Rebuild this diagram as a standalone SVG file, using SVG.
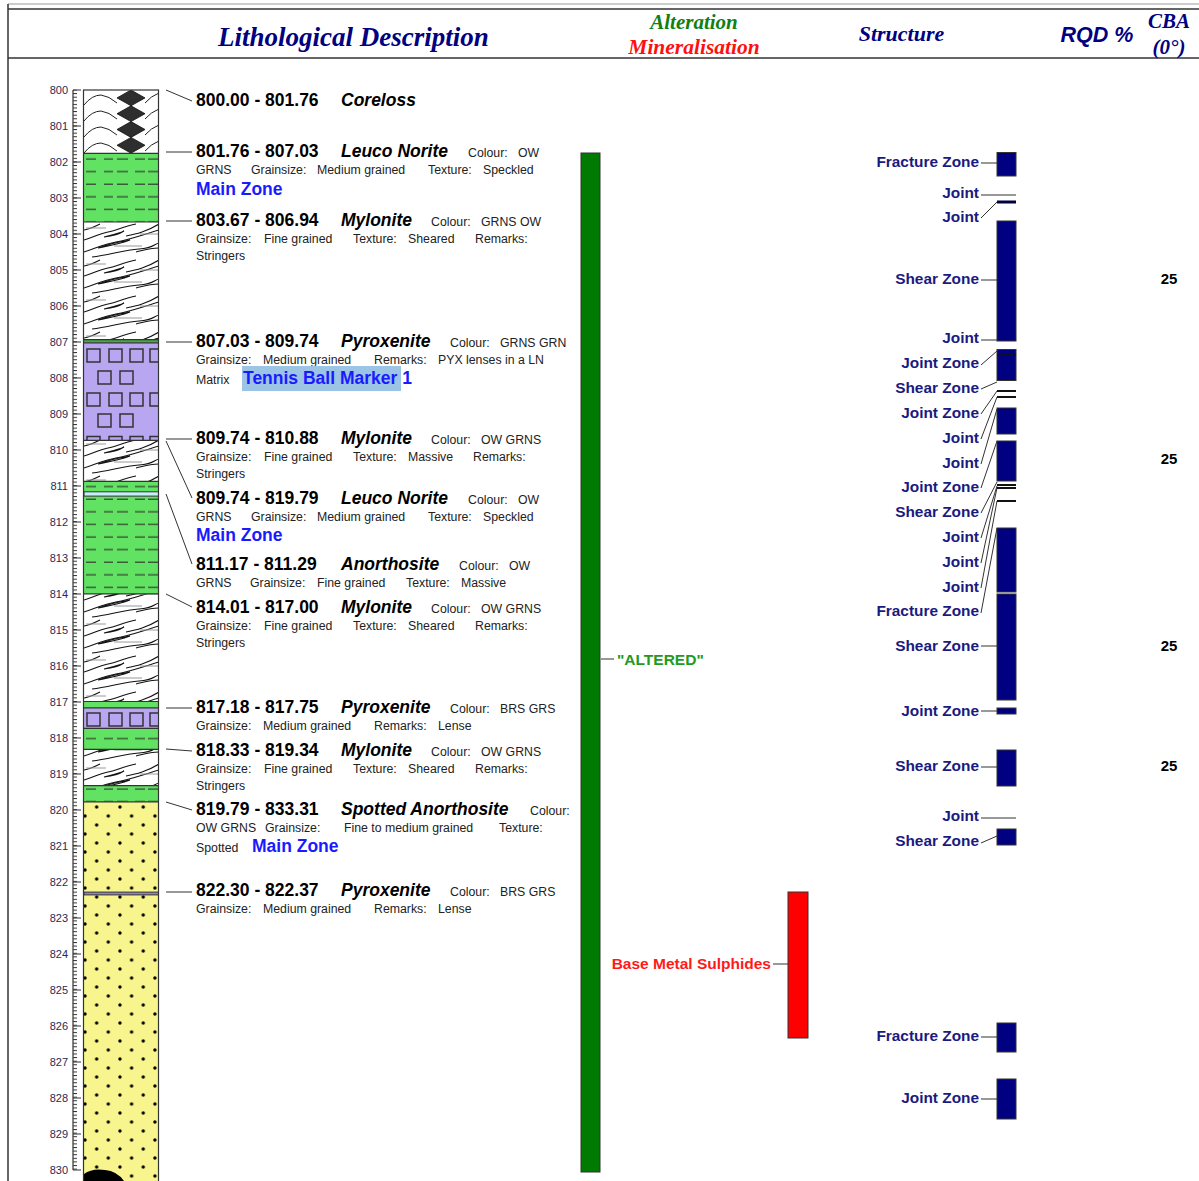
<svg xmlns="http://www.w3.org/2000/svg" width="1199" height="1181" viewBox="0 0 1199 1181">
<style>
  .hd{font-family:"Liberation Serif","Times New Roman",serif;font-weight:bold;font-style:italic}
  .num{font:bold 17.5px "Liberation Sans",Arial,sans-serif;fill:#000}
  .nm{font:italic bold 17.5px "Liberation Sans",Arial,sans-serif;fill:#000}
  .sm{font:12.3px "Liberation Sans",Arial,sans-serif;fill:#222}
  .mz{font:bold 17.5px "Liberation Sans",Arial,sans-serif;fill:#1a1aff}
  .st{font:bold 15.4px "Liberation Sans",Arial,sans-serif;fill:#1a1a80;text-anchor:end}
  .cba{font:bold 15px "Liberation Sans",Arial,sans-serif;fill:#000;text-anchor:middle}
  .rl{font:11px "Liberation Sans",Arial,sans-serif;fill:#2a2a55;text-anchor:end}
  .ld{stroke:#333;stroke-width:1;fill:none}
  .bar{fill:#000080;stroke:#333;stroke-width:1}
  .sq{fill:none;stroke:#333;stroke-width:1.5}
  .edge{stroke:#333;stroke-width:1.2;fill:none}
</style>
<defs>
  <pattern id="tick" patternUnits="userSpaceOnUse" x="73" y="89.5" width="10" height="3.597">
    <rect x="0" y="0" width="10" height="1" fill="#333"/>
  </pattern>
  <pattern id="dash" patternUnits="userSpaceOnUse" x="84" y="153" width="75" height="12.6">
    <path d="M2,6h10M20,6h9M33,6h11M51,6h10M64,6h10" stroke="#3b5a3b" stroke-width="1.4"/>
  </pattern>
  <pattern id="myl" patternUnits="userSpaceOnUse" x="84" y="222" width="75" height="36">
    <rect width="75" height="36" fill="#fff"/>
    <g fill="none" stroke="#111" stroke-width="1.1">
      <path d="M0,30 C10,27 20,22 32,20 S55,14 75,8"/>
      <path d="M0,18 C8,16 14,12 24,10 C34,8 40,4 52,2"/>
      <path d="M8,35 C25,33 40,28 55,27 S70,22 75,21"/>
      <path d="M42,14 C52,12 62,10 75,2"/>
      <path d="M14,26 C24,22 34,20 46,18 C36,22 24,24 14,26Z"/>
      <path d="M52,30 C60,28 66,26 75,26"/>
      <path d="M0,8 C6,7 10,5 16,2"/>
      <path d="M20,15 C28,13 34,12 40,9 C34,13 28,14 20,15Z"/>
    </g>
    <path d="M2,6H22M30,24H58M56,12H74" stroke="#999" stroke-width="1"/>
  </pattern>
  <pattern id="dots" patternUnits="userSpaceOnUse" x="85" y="807" width="23.3" height="18">
    <g fill="#000">
      <circle cx="11.65" cy="0" r="1.7"/><circle cx="11.65" cy="18" r="1.7"/>
      <circle cx="0" cy="9" r="1.7"/><circle cx="23.3" cy="9" r="1.7"/>
    </g>
  </pattern>
  <clipPath id="col"><rect x="84" y="90" width="74.5" height="1091"/></clipPath>
  <rect id="s" width="13" height="13" class="sq"/>
</defs>

<!-- page frame and header -->
<g id="frame">
  <rect width="1199" height="1181" fill="#fff"/>
  <line x1="8" y1="4" x2="1199" y2="4" stroke="#bbb" stroke-width="1.5"/>
  <line x1="8" y1="9" x2="1199" y2="9" stroke="#333" stroke-width="1.5"/>
  <line x1="8" y1="58" x2="1199" y2="58" stroke="#333" stroke-width="1.5"/>
  <line x1="8" y1="4" x2="8" y2="1181" stroke="#333" stroke-width="1.5"/>
</g>
<g id="header">
  <text class="hd" x="353.5" y="46" font-size="27" fill="#000080" text-anchor="middle">Lithological Description</text>
  <text class="hd" x="694" y="29" font-size="21" fill="#108010" text-anchor="middle">Alteration</text>
  <text class="hd" x="694" y="54" font-size="21.5" fill="#ff1010" text-anchor="middle">Mineralisation</text>
  <text class="hd" x="901.5" y="41" font-size="22" fill="#000080" text-anchor="middle">Structure</text>
  <text x="1097" y="42" font-family="Liberation Sans, Arial, sans-serif" font-weight="bold" font-style="italic" font-size="21.5" fill="#000080" text-anchor="middle">RQD %</text>
  <text class="hd" x="1169" y="28" font-size="21" fill="#000080" text-anchor="middle">CBA</text>
  <text class="hd" x="1169" y="54" font-size="21" fill="#000080" text-anchor="middle">(0°)</text>
</g>

<!-- depth ruler -->
<g id="ruler">
  <rect x="73" y="89.5" width="4" height="1080.5" fill="url(#tick)"/>
  <line x1="73" y1="90" x2="73" y2="1170" stroke="#333" stroke-width="1.2"/>
  <path stroke="#333" stroke-width="1.2" d="M73,90h8M73,126h8M73,162h8M73,198h8M73,234h8M73,270h8M73,306h8M73,342h8M73,378h8M73,414h8M73,450h8M73,486h8M73,522h8M73,558h8M73,594h8M73,630h8M73,666h8M73,702h8M73,738h8M73,774h8M73,810h8M73,846h8M73,882h8M73,918h8M73,954h8M73,990h8M73,1026h8M73,1062h8M73,1098h8M73,1134h8M73,1170h8"/>
  <text class="rl" x="68" y="94">800</text>
  <text class="rl" x="68" y="130">801</text>
  <text class="rl" x="68" y="166">802</text>
  <text class="rl" x="68" y="202">803</text>
  <text class="rl" x="68" y="238">804</text>
  <text class="rl" x="68" y="274">805</text>
  <text class="rl" x="68" y="310">806</text>
  <text class="rl" x="68" y="346">807</text>
  <text class="rl" x="68" y="382">808</text>
  <text class="rl" x="68" y="418">809</text>
  <text class="rl" x="68" y="454">810</text>
  <text class="rl" x="68" y="490">811</text>
  <text class="rl" x="68" y="526">812</text>
  <text class="rl" x="68" y="562">813</text>
  <text class="rl" x="68" y="598">814</text>
  <text class="rl" x="68" y="634">815</text>
  <text class="rl" x="68" y="670">816</text>
  <text class="rl" x="68" y="706">817</text>
  <text class="rl" x="68" y="742">818</text>
  <text class="rl" x="68" y="778">819</text>
  <text class="rl" x="68" y="814">820</text>
  <text class="rl" x="68" y="850">821</text>
  <text class="rl" x="68" y="886">822</text>
  <text class="rl" x="68" y="922">823</text>
  <text class="rl" x="68" y="958">824</text>
  <text class="rl" x="68" y="994">825</text>
  <text class="rl" x="68" y="1030">826</text>
  <text class="rl" x="68" y="1066">827</text>
  <text class="rl" x="68" y="1102">828</text>
  <text class="rl" x="68" y="1138">829</text>
  <text class="rl" x="68" y="1174">830</text>
</g>

<!-- lithology column -->
<g id="lithology" clip-path="url(#col)">
  <!-- coreloss 800.00-801.76 -->
  <rect x="84" y="90" width="75" height="63.3" fill="#fff"/>
  <g fill="#2e2e2e" stroke="#111" stroke-width="0.8">
    <polygon points="117,97.9 131,90 145,97.9 131,105.8"/>
    <polygon points="117,113.7 131,105.8 145,113.7 131,121.6"/>
    <polygon points="117,129.5 131,121.6 145,129.5 131,137.4"/>
    <polygon points="117,145.3 131,137.4 145,145.3 131,153.2"/>
  </g>
  <g fill="none" stroke="#222" stroke-width="1">
    <path d="M84,105 Q92,95 101,95 Q109,96 117,103 M145,103 Q151,96 159,93"/>
    <path d="M84,121 Q92,111 101,111 Q109,112 117,119 M145,119 Q151,112 159,109"/>
    <path d="M84,137 Q92,127 101,127 Q109,128 117,135 M145,135 Q151,128 159,125"/>
    <path d="M84,153 Q92,143 101,143 Q109,144 117,151 M145,151 Q151,144 159,141"/>
  </g>
  <!-- leuco norite 801.76-803.67 -->
  <rect x="84" y="153.3" width="75" height="68.7" fill="#62e262"/>
  <rect x="84" y="153.3" width="75" height="68.7" fill="url(#dash)"/>
  <!-- mylonite 803.67-806.94 -->
  <rect x="84" y="222" width="75" height="117.6" fill="url(#myl)"/>
  <rect x="84" y="339.6" width="75" height="3.2" fill="#3fae3f"/>
  <!-- pyroxenite 807.03-809.74 -->
  <rect x="84" y="342.8" width="75" height="97.6" fill="#b8a6f0"/>
  <use href="#s" x="87" y="349"/><use href="#s" x="109" y="349"/><use href="#s" x="130" y="349"/><use href="#s" x="150" y="349"/>
  <use href="#s" x="98" y="371"/><use href="#s" x="120" y="371"/>
  <use href="#s" x="87" y="393"/><use href="#s" x="109" y="393"/><use href="#s" x="130" y="393"/><use href="#s" x="150" y="393"/>
  <use href="#s" x="98" y="414"/><use href="#s" x="120" y="414"/>
  <path d="M87,440V436.5H100V440M109,440V436.5H122V440M130,440V436.5H143V440M150,440V436.5H159" class="sq"/>
  <!-- mylonite 809.74-810.88 -->
  <rect x="84" y="440.4" width="75" height="41" fill="url(#myl)"/>
  <!-- leuco norite 810.88-814.01 -->
  <rect x="84" y="481.4" width="75" height="112.5" fill="#62e262"/>
  <rect x="84" y="481.4" width="75" height="112.5" fill="url(#dash)"/>
  <!-- anorthosite 811.17-811.29 -->
  <rect x="84" y="491.8" width="75" height="4.3" fill="#c6eef6" stroke="#333" stroke-width="1"/>
  <!-- mylonite 814.01-817.00 -->
  <rect x="84" y="593.9" width="75" height="107.6" fill="url(#myl)"/>
  <rect x="84" y="701.5" width="75" height="6.4" fill="#62e262"/>
  <!-- pyroxenite 817.18-817.75 -->
  <rect x="84" y="707.9" width="75" height="20.5" fill="#b8a6f0"/>
  <use href="#s" x="87" y="713"/><use href="#s" x="109" y="713"/><use href="#s" x="130" y="713"/><use href="#s" x="150" y="713"/>
  <!-- leuco norite 817.75-818.33 -->
  <rect x="84" y="728.4" width="75" height="20.9" fill="#62e262"/>
  <rect x="84" y="728.4" width="75" height="20.9" fill="url(#dash)"/>
  <!-- mylonite 818.33-819.34 -->
  <rect x="84" y="749.3" width="75" height="36.3" fill="url(#myl)"/>
  <!-- leuco norite 819.34-819.79 -->
  <rect x="84" y="785.6" width="75" height="16.2" fill="#62e262"/>
  <rect x="84" y="785.6" width="75" height="16.2" fill="url(#dash)"/>
  <!-- spotted anorthosite 819.79-833.31 -->
  <rect x="84" y="801.8" width="75" height="380" fill="#f9f58e"/>
  <rect x="84" y="801.8" width="75" height="380" fill="url(#dots)"/>
  <!-- pyroxenite 822.30-822.37 -->
  <rect x="84" y="892.1" width="75" height="2.8" fill="#8e86c0" stroke="#333" stroke-width="1"/>
  <path d="M84,1181 L84,1174 Q92,1168 105,1170 Q117,1171 124,1181Z" fill="#000"/>
  <!-- unit boundaries -->
  <path class="edge" d="M84,153.3H159M84,222H159M84,339.6H159M84,342.8H159M84,440.4H159M84,481.4H159M84,593.9H159M84,701.5H159M84,707.9H159M84,728.4H159M84,749.3H159M84,785.6H159M84,801.8H159"/>
</g>
<rect x="83.5" y="90" width="75" height="1095" fill="none" stroke="#333" stroke-width="1.2"/>

<!-- leaders from units, alteration and structures to their labels -->
<g id="connectors">
  <path class="ld" d="M166,90L192,101M166,152H192M166,221H192M166,342H192M166,439H192M166,441L192,498M166,494L192,564M166,594L192,607M166,708H192M166,749L192,751M166,802L192,810M166,892H192"/>
  <path class="ld" d="M601,659H614M773,964H788"/>
  <path class="ld" d="M981,163H997M981,195H1016M981,218L997,202M981,280H997M981,340H1016M981,365L997,351M981,389L997,382M981,414L997,391M981,439L997,397M981,464L997,409M981,488L997,441M981,513L997,482M981,538L997,486M981,563L997,488M981,588L997,501M981,613L997,528M981,646H997M981,711H997M981,767H997M981,818H1016M981,843L997,836M981,1037H997M981,1099H997"/>
</g>

<!-- lithology descriptions -->
<g id="unit-800-00">
  <text class="num" x="196" y="106">800.00 - 801.76</text>
  <text class="nm" x="341" y="106">Coreloss</text>
</g>
<g id="unit-801-76">
  <text class="num" x="196" y="157">801.76 - 807.03</text>
  <text class="nm" x="341" y="157">Leuco Norite</text>
  <text class="sm" x="468" y="157">Colour:</text><text class="sm" x="518" y="157">OW</text>
  <text class="sm" x="196" y="174">GRNS</text><text class="sm" x="251" y="174">Grainsize:</text><text class="sm" x="317" y="174">Medium grained</text><text class="sm" x="428" y="174">Texture:</text><text class="sm" x="483" y="174">Speckled</text>
  <text class="mz" x="196" y="195">Main Zone</text>
</g>
<g id="unit-803-67">
  <text class="num" x="196" y="226">803.67 - 806.94</text>
  <text class="nm" x="341" y="226">Mylonite</text>
  <text class="sm" x="431" y="226">Colour:</text><text class="sm" x="481" y="226">GRNS OW</text>
  <text class="sm" x="196" y="243">Grainsize:</text><text class="sm" x="264" y="243">Fine grained</text><text class="sm" x="353" y="243">Texture:</text><text class="sm" x="408" y="243">Sheared</text><text class="sm" x="475" y="243">Remarks:</text>
  <text class="sm" x="196" y="260">Stringers</text>
</g>
<g id="unit-807-03">
  <text class="num" x="196" y="347">807.03 - 809.74</text>
  <text class="nm" x="341" y="347">Pyroxenite</text>
  <text class="sm" x="450" y="347">Colour:</text><text class="sm" x="500" y="347">GRNS GRN</text>
  <text class="sm" x="196" y="364">Grainsize:</text><text class="sm" x="263" y="364">Medium grained</text><text class="sm" x="374" y="364">Remarks:</text><text class="sm" x="438" y="364">PYX lenses in a LN</text>
  <text class="sm" x="196" y="384">Matrix</text>
  <rect x="242" y="366" width="159" height="25" fill="#9cc4e4"/>
  <text class="mz" x="243" y="384">Tennis Ball Marker 1</text>
</g>
<g id="unit-809-74a">
  <text class="num" x="196" y="444">809.74 - 810.88</text>
  <text class="nm" x="341" y="444">Mylonite</text>
  <text class="sm" x="431" y="444">Colour:</text><text class="sm" x="481" y="444">OW GRNS</text>
  <text class="sm" x="196" y="461">Grainsize:</text><text class="sm" x="264" y="461">Fine grained</text><text class="sm" x="353" y="461">Texture:</text><text class="sm" x="408" y="461">Massive</text><text class="sm" x="473" y="461">Remarks:</text>
  <text class="sm" x="196" y="478">Stringers</text>
</g>
<g id="unit-809-74b">
  <text class="num" x="196" y="504">809.74 - 819.79</text>
  <text class="nm" x="341" y="504">Leuco Norite</text>
  <text class="sm" x="468" y="504">Colour:</text><text class="sm" x="518" y="504">OW</text>
  <text class="sm" x="196" y="521">GRNS</text><text class="sm" x="251" y="521">Grainsize:</text><text class="sm" x="317" y="521">Medium grained</text><text class="sm" x="428" y="521">Texture:</text><text class="sm" x="483" y="521">Speckled</text>
  <text class="mz" x="196" y="541">Main Zone</text>
</g>
<g id="unit-811-17">
  <text class="num" x="196" y="570">811.17 - 811.29</text>
  <text class="nm" x="341" y="570">Anorthosite</text>
  <text class="sm" x="459" y="570">Colour:</text><text class="sm" x="509" y="570">OW</text>
  <text class="sm" x="196" y="587">GRNS</text><text class="sm" x="250" y="587">Grainsize:</text><text class="sm" x="317" y="587">Fine grained</text><text class="sm" x="406" y="587">Texture:</text><text class="sm" x="461" y="587">Massive</text>
</g>
<g id="unit-814-01">
  <text class="num" x="196" y="613">814.01 - 817.00</text>
  <text class="nm" x="341" y="613">Mylonite</text>
  <text class="sm" x="431" y="613">Colour:</text><text class="sm" x="481" y="613">OW GRNS</text>
  <text class="sm" x="196" y="630">Grainsize:</text><text class="sm" x="264" y="630">Fine grained</text><text class="sm" x="353" y="630">Texture:</text><text class="sm" x="408" y="630">Sheared</text><text class="sm" x="475" y="630">Remarks:</text>
  <text class="sm" x="196" y="647">Stringers</text>
</g>
<g id="unit-817-18">
  <text class="num" x="196" y="713">817.18 - 817.75</text>
  <text class="nm" x="341" y="713">Pyroxenite</text>
  <text class="sm" x="450" y="713">Colour:</text><text class="sm" x="500" y="713">BRS GRS</text>
  <text class="sm" x="196" y="730">Grainsize:</text><text class="sm" x="263" y="730">Medium grained</text><text class="sm" x="374" y="730">Remarks:</text><text class="sm" x="438" y="730">Lense</text>
</g>
<g id="unit-818-33">
  <text class="num" x="196" y="756">818.33 - 819.34</text>
  <text class="nm" x="341" y="756">Mylonite</text>
  <text class="sm" x="431" y="756">Colour:</text><text class="sm" x="481" y="756">OW GRNS</text>
  <text class="sm" x="196" y="773">Grainsize:</text><text class="sm" x="264" y="773">Fine grained</text><text class="sm" x="353" y="773">Texture:</text><text class="sm" x="408" y="773">Sheared</text><text class="sm" x="475" y="773">Remarks:</text>
  <text class="sm" x="196" y="790">Stringers</text>
</g>
<g id="unit-819-79">
  <text class="num" x="196" y="815">819.79 - 833.31</text>
  <text class="nm" x="341" y="815">Spotted Anorthosite</text>
  <text class="sm" x="530" y="815">Colour:</text>
  <text class="sm" x="196" y="832">OW GRNS</text><text class="sm" x="265" y="832">Grainsize:</text><text class="sm" x="344" y="832">Fine to medium grained</text><text class="sm" x="499" y="832">Texture:</text>
  <text class="sm" x="196" y="852">Spotted</text>
  <text class="mz" x="252" y="852">Main Zone</text>
</g>
<g id="unit-822-30">
  <text class="num" x="196" y="896">822.30 - 822.37</text>
  <text class="nm" x="341" y="896">Pyroxenite</text>
  <text class="sm" x="450" y="896">Colour:</text><text class="sm" x="500" y="896">BRS GRS</text>
  <text class="sm" x="196" y="913">Grainsize:</text><text class="sm" x="263" y="913">Medium grained</text><text class="sm" x="374" y="913">Remarks:</text><text class="sm" x="438" y="913">Lense</text>
</g>

<!-- alteration / mineralisation -->
<g id="alteration">
  <rect x="581" y="153" width="19" height="1019" fill="#007a00" stroke="#333" stroke-width="1"/>
  <text x="617" y="665" font-family="Liberation Sans, Arial, sans-serif" font-weight="bold" font-size="15.5" fill="#229a22">"ALTERED"</text>
</g>
<g id="mineralisation">
  <rect x="788" y="892" width="20" height="146" fill="#ff0000" stroke="#333" stroke-width="1"/>
  <text x="771" y="969" font-family="Liberation Sans, Arial, sans-serif" font-weight="bold" font-size="15.5" fill="#ff1a1a" text-anchor="end">Base Metal Sulphides</text>
</g>

<!-- structures -->
<g id="structures">
  <rect class="bar" x="997" y="152.5" width="19" height="23.5"/>
  <rect x="997" y="200.5" width="19" height="3" fill="#000040"/>
  <rect class="bar" x="997" y="221" width="19" height="120"/>
  <rect class="bar" x="997" y="349.5" width="19" height="31"/>
  <line x1="997" y1="355" x2="1016" y2="355" stroke="#111" stroke-width="1.5"/>
  <path d="M997,391H1016M997,397H1016M997,485H1016M997,488H1016M997,501H1016" stroke="#111" stroke-width="2"/>
  <rect class="bar" x="997" y="408" width="19" height="26"/>
  <rect class="bar" x="997" y="441" width="19" height="40"/>
  <rect class="bar" x="997" y="528" width="19" height="64"/>
  <rect class="bar" x="997" y="594" width="19" height="106"/>
  <rect class="bar" x="997" y="708" width="19" height="6"/>
  <rect class="bar" x="997" y="750" width="19" height="36"/>
  <rect class="bar" x="997" y="829" width="19" height="16"/>
  <rect class="bar" x="997" y="1023" width="19" height="29"/>
  <rect class="bar" x="997" y="1079" width="19" height="40"/>
  <text class="st" x="979" y="167">Fracture Zone</text>
  <text class="st" x="979" y="198">Joint</text>
  <text class="st" x="979" y="222">Joint</text>
  <text class="st" x="979" y="284">Shear Zone</text>
  <text class="st" x="979" y="343">Joint</text>
  <text class="st" x="979" y="368">Joint Zone</text>
  <text class="st" x="979" y="393">Shear Zone</text>
  <text class="st" x="979" y="418">Joint Zone</text>
  <text class="st" x="979" y="443">Joint</text>
  <text class="st" x="979" y="468">Joint</text>
  <text class="st" x="979" y="492">Joint Zone</text>
  <text class="st" x="979" y="517">Shear Zone</text>
  <text class="st" x="979" y="542">Joint</text>
  <text class="st" x="979" y="567">Joint</text>
  <text class="st" x="979" y="592">Joint</text>
  <text class="st" x="979" y="616">Fracture Zone</text>
  <text class="st" x="979" y="651">Shear Zone</text>
  <text class="st" x="979" y="716">Joint Zone</text>
  <text class="st" x="979" y="771">Shear Zone</text>
  <text class="st" x="979" y="821">Joint</text>
  <text class="st" x="979" y="846">Shear Zone</text>
  <text class="st" x="979" y="1041">Fracture Zone</text>
  <text class="st" x="979" y="1103">Joint Zone</text>
</g>

<!-- core to bedding angles -->
<g id="cba">
  <text class="cba" x="1169" y="284">25</text>
  <text class="cba" x="1169" y="464">25</text>
  <text class="cba" x="1169" y="651">25</text>
  <text class="cba" x="1169" y="771">25</text>
</g>
</svg>
